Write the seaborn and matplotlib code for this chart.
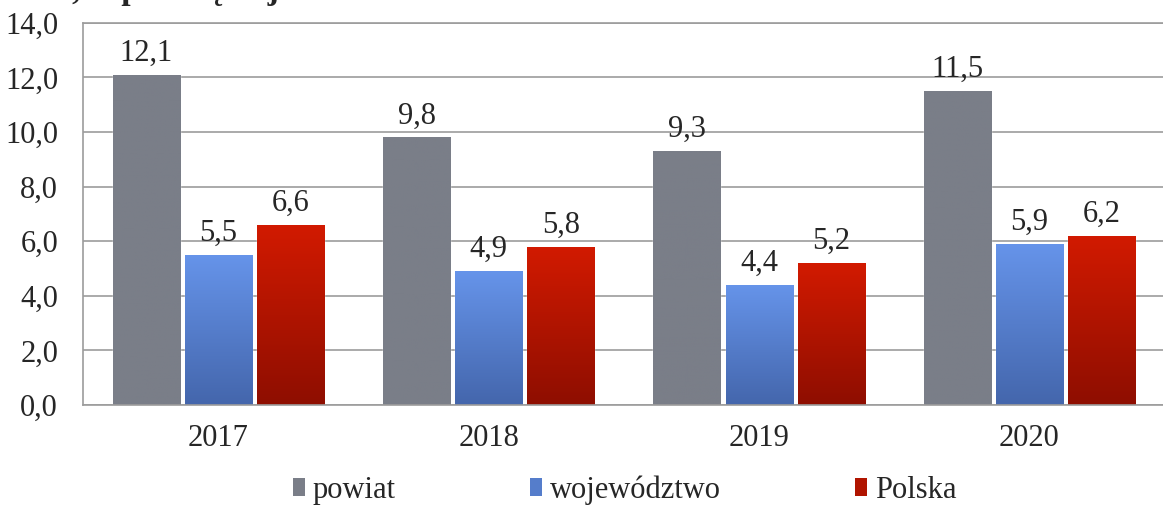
import numpy as np
import pandas as pd
import matplotlib
matplotlib.use("Agg")
import matplotlib.pyplot as plt
import seaborn as sns
from matplotlib.colors import LinearSegmentedColormap
from matplotlib.patches import Patch

# data
years = ["2017", "2018", "2019", "2020"]
series = ["powiat", "województwo", "Polska"]
powiat = [12.1, 9.8, 9.3, 11.5]
wojewodztwo = [5.5, 4.9, 4.4, 5.9]
polska = [6.6, 5.8, 5.2, 6.2]

df = pd.DataFrame({
    "rok": years * 3,
    "wartosc": powiat + wojewodztwo + polska,
    "seria": [series[0]] * 4 + [series[1]] * 4 + [series[2]] * 4,
})

# top / bottom colours of each series (gradient fill)
grad = {
    "powiat": ("#7a7e88", "#7a7e88"),
    "województwo": ("#6694ea", "#4466ac"),
    "Polska": ("#d21a00", "#8e0e00"),
}
mid = {"powiat": "#7a7e88", "województwo": "#557dcb", "Polska": "#b01400"}

sns.set_style("white")
plt.rcParams["font.family"] = ["Liberation Serif", "DejaVu Serif"]
fs = 22

fig = plt.figure(figsize=(11.63, 5.05), dpi=100)
ax = fig.add_axes([0.0714, 0.198, 0.93, 0.757])

sns.barplot(data=df, x="rok", y="wartosc", hue="seria", palette=mid,
            width=0.8, gap=0.07, ax=ax, legend=False, saturation=1)

ax.set_ylim(0, 14)
ax.set_yticks(np.arange(0, 14.1, 2))
ax.set_yticklabels([f"{v:.1f}".replace(".", ",") for v in np.arange(0, 14.1, 2)])
ax.set_xlabel("")
ax.set_ylabel("")
ax.tick_params(axis="both", labelsize=fs, length=0)
ax.tick_params(axis="y", pad=18)
ax.tick_params(axis="x", pad=14)
ax.yaxis.grid(True, color="#9c9c9c", linewidth=1.2)
ax.set_axisbelow(True)
for s in ax.spines.values():
    s.set_color("#9c9c9c")
    s.set_linewidth(1.2)

# gradient fill for each bar, labels above
for cont, name in zip(ax.containers, series):
    top, bot = grad[name]
    cmap = LinearSegmentedColormap.from_list(name, [bot, top])
    for bar in cont:
        x0, y0 = bar.get_x(), bar.get_y()
        w, h = bar.get_width(), bar.get_height()
        img = ax.imshow(np.linspace(0, 1, 256).reshape(-1, 1), cmap=cmap,
                        extent=[x0, x0 + w, y0, y0 + h], origin="lower",
                        aspect="auto", zorder=bar.get_zorder() + 0.1)
        img.set_clip_path(bar)
    ax.bar_label(cont, labels=[f"{v:.1f}".replace(".", ",") for v in cont.datavalues],
                 padding=5, fontsize=fs)

ax.set_xlim(-0.5, 3.5)
ax.set_ylim(0, 14)

handles = [Patch(facecolor=mid[n], edgecolor="none") for n in series]
fig.legend(handles, series, loc="center", bbox_to_anchor=(0.537, 0.03), ncol=3,
           frameon=False, fontsize=fs, handlelength=0.4, handleheight=0.55,
           handletextpad=0.25, columnspacing=4.4)

# chart title cut off at the top edge of the picture
fig.text(0.0, 1 - 6 / 505, "ności, w przeciętnej", fontsize=24, fontweight="bold",
         va="bottom", ha="left")

fig.savefig("out.png", dpi=100)
